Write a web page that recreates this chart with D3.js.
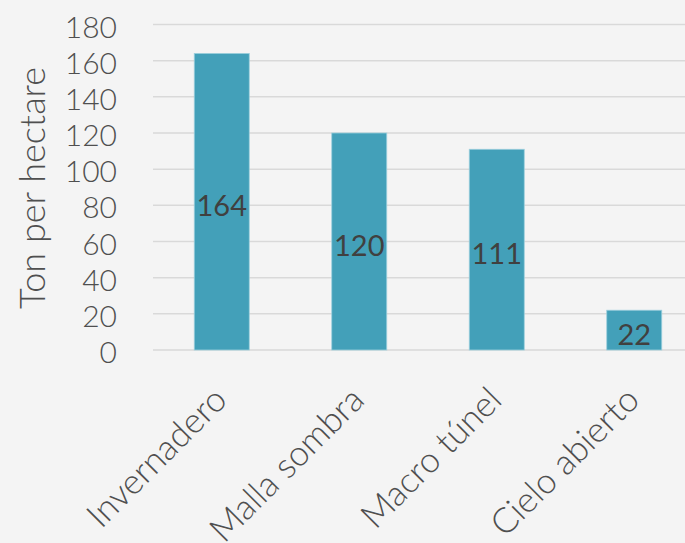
<!DOCTYPE html>
<html>
<head>
<meta charset="utf-8">
<script src="https://cdn.jsdelivr.net/npm/d3@7"></script>
<style>
  html, body { margin: 0; padding: 0; background: #f4f4f4; }
  svg { display: block; }
</style>
</head>
<body>
<svg id="chart" width="685" height="543"></svg>
<script>
const categories = ["Invernadero", "Malla sombra", "Macro túnel", "Cielo abierto"];
const values = [164, 120, 111, 22];
const yTicks = [0, 20, 40, 60, 80, 100, 120, 140, 160, 180];
const yTitle = "Ton per hectare";

const W = 685, H = 543;
const FONT = "Lato, 'Open Sans', sans-serif";
const svg = d3.select("#chart");
svg.append("rect").attr("width", W).attr("height", H).attr("fill", "#f4f4f4");

const x = d3.scaleBand().domain(categories).range([153, 703]).paddingInner(0.6).paddingOuter(0.3);
const y = d3.scaleLinear().domain([0, 180]).range([350, 24.5]);

// gridlines
svg.append("g").selectAll("line").data(yTicks).join("line")
  .attr("x1", 153).attr("x2", W)
  .attr("y1", d => y(d)).attr("y2", d => y(d))
  .attr("stroke", "#d9d9d9").attr("stroke-width", 1.5);

// y axis labels
const yAxis = d3.axisLeft(y).tickValues(yTicks).tickSize(0).tickPadding(0).tickFormat(d3.format("d"));
const gy = svg.append("g").attr("transform", "translate(117,0)").call(yAxis);
gy.select(".domain").remove();
gy.selectAll("text")
  .attr("font-family", FONT).attr("font-size", 30).attr("font-weight", 300).attr("fill", "#4f4f4f")
  .attr("dy", "0.42em");

// bars
svg.append("g").selectAll("rect").data(values).join("rect")
  .attr("x", (d, i) => x(categories[i]))
  .attr("width", x.bandwidth())
  .attr("y", d => y(d))
  .attr("height", d => y(0) - y(d))
  .attr("fill", "#43a0b9")
  .attr("stroke", "#9ccfdd").attr("stroke-width", 0.8);

// value labels
svg.append("g").selectAll("text").data(values).join("text")
  .attr("x", (d, i) => x(categories[i]) + x.bandwidth() / 2)
  .attr("y", d => (y(d) + y(0)) / 2 + 4)
  .attr("dy", "0.36em")
  .attr("text-anchor", "middle")
  .attr("font-family", FONT).attr("font-size", 29).attr("font-weight", 400).attr("fill", "#404040")
  .text(d => d);

// x category labels
svg.append("g").selectAll("text").data(categories).join("text")
  .attr("transform", d => `translate(${x(d) + x.bandwidth() / 2 + 7},402) rotate(-45)`)
  .attr("text-anchor", "end")
  .attr("font-family", FONT).attr("font-size", 35).attr("font-weight", 300).attr("fill", "#4f4f4f")
  .text(d => d);

// y title
svg.append("text")
  .attr("transform", "translate(45,188) rotate(-90)")
  .attr("text-anchor", "middle")
  .attr("font-family", FONT).attr("font-size", 36).attr("font-weight", 300).attr("fill", "#4f4f4f")
  .text(yTitle);
</script>
</body>
</html>
